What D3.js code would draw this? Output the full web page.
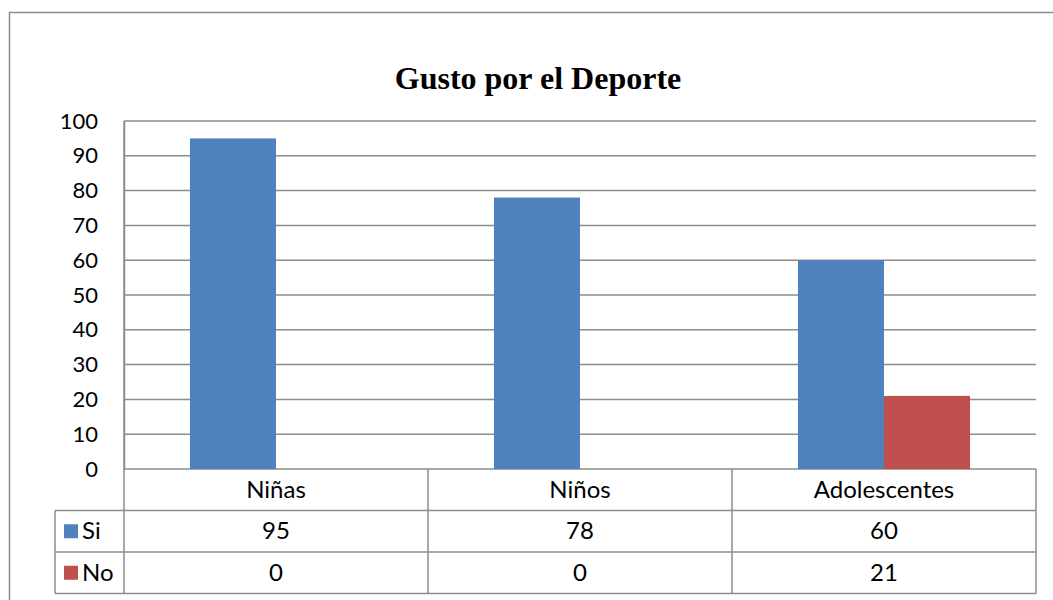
<!DOCTYPE html>
<html>
<head>
<meta charset="utf-8">
<script src="https://cdn.jsdelivr.net/npm/d3@7"></script>
<style>
  body { margin: 0; background: #fff; }
  svg { display: block; }
</style>
</head>
<body>
<div id="chart"></div>
<script>
var categories = ["Niñas", "Niños", "Adolescentes"];
var seriesNames = ["Si", "No"];
var siValues = [95, 78, 60];
var noValues = [0, 0, 21];
var yTicks = [0, 10, 20, 30, 40, 50, 60, 70, 80, 90, 100];
var colors = ["#4f81bd", "#c0504d"];

var width = 1053, height = 600;
var plot = { left: 124, right: 1036, top: 121, bottom: 469 };
var rowH = 41.5;
var tableLeft = 55;
var gridColor = "#8c8c8c";

var svg = d3.select("#chart").append("svg")
    .attr("width", width)
    .attr("height", height);

// outer frame (cut off at right and bottom)
svg.append("rect")
    .attr("x", 9.5).attr("y", 12.5)
    .attr("width", 1100).attr("height", 700)
    .attr("fill", "none")
    .attr("stroke", gridColor)
    .attr("stroke-width", 1.5);

svg.append("text")
    .attr("x", 538).attr("y", 89)
    .attr("text-anchor", "middle")
    .style("font-family", "'Liberation Serif', 'Times New Roman', serif")
    .style("font-weight", "bold")
    .style("font-size", "32px")
    .attr("fill", "#000")
    .text("Gusto por el Deporte");

var y = d3.scaleLinear().domain([0, 100]).range([plot.bottom, plot.top]);
var x0 = d3.scaleBand().domain(categories).range([plot.left, plot.right]).padding(0);
var x1 = d3.scaleBand().domain(seriesNames).range([0, x0.bandwidth()])
    .paddingInner(0).paddingOuter(0.767);

// gridlines
svg.append("g").selectAll("line")
    .data(yTicks).enter()
    .append("line")
    .attr("x1", plot.left).attr("x2", plot.right)
    .attr("y1", function(d) { return y(d); })
    .attr("y2", function(d) { return y(d); })
    .attr("stroke", gridColor)
    .attr("stroke-width", 1.5);

// y axis labels
var yAxis = d3.axisLeft(y).tickValues(yTicks).tickSize(0).tickPadding(26);
var yg = svg.append("g")
    .attr("transform", "translate(" + plot.left + ",0)")
    .call(yAxis);
yg.select(".domain").attr("stroke", gridColor).attr("stroke-width", 1.5);
yg.selectAll("text")
    .style("font-family", "Lato, 'Open Sans', sans-serif")
    .style("font-size", "22px")
    .attr("fill", "#000");

// bars
var rows = categories.map(function(c, i) {
    return { cat: c, values: [siValues[i], noValues[i]] };
});
var groups = svg.append("g").selectAll("g")
    .data(rows).enter()
    .append("g")
    .attr("transform", function(d) { return "translate(" + x0(d.cat) + ",0)"; });
groups.selectAll("rect")
    .data(function(d) {
        return d.values.map(function(v, j) { return { s: seriesNames[j], v: v, j: j }; });
    })
    .enter().append("rect")
    .attr("x", function(d) { return x1(d.s); })
    .attr("width", x1.bandwidth())
    .attr("y", function(d) { return y(d.v); })
    .attr("height", function(d) { return plot.bottom - y(d.v); })
    .attr("fill", function(d) { return colors[d.j]; });

// data table
var table = svg.append("g");
var tBottom = plot.bottom + rowH * 3;
function hline(x1p, x2p, yp) {
    table.append("line").attr("x1", x1p).attr("x2", x2p).attr("y1", yp).attr("y2", yp)
        .attr("stroke", gridColor).attr("stroke-width", 1.5);
}
function vline(xp, y1p, y2p) {
    table.append("line").attr("x1", xp).attr("x2", xp).attr("y1", y1p).attr("y2", y2p)
        .attr("stroke", gridColor).attr("stroke-width", 1.5);
}
hline(tableLeft, plot.right, plot.bottom + rowH);
hline(tableLeft, plot.right, plot.bottom + rowH * 2);
hline(tableLeft, plot.right, tBottom);
vline(tableLeft, plot.bottom + rowH, tBottom);
vline(plot.left, plot.top, tBottom);
categories.forEach(function(c) {
    vline(x0(c) + x0.bandwidth(), plot.bottom, tBottom);
});

var cellFont = "Lato, 'Open Sans', sans-serif";
var cellSize = "24px";
table.selectAll("text.cat")
    .data(categories).enter()
    .append("text")
    .attr("class", "cat")
    .attr("x", function(d) { return x0(d) + x0.bandwidth() / 2; })
    .attr("y", plot.bottom + rowH / 2 + 8)
    .attr("text-anchor", "middle")
    .style("font-family", cellFont)
    .style("font-size", cellSize)
    .text(function(d) { return d; });

[siValues, noValues].forEach(function(vals, r) {
    var rowY = plot.bottom + rowH * (r + 1);
    table.append("rect")
        .attr("x", 64).attr("y", rowY + rowH / 2 - 7)
        .attr("width", 14).attr("height", 14)
        .attr("fill", colors[r]);
    table.append("text")
        .attr("x", 82).attr("y", rowY + rowH / 2 + 8)
        .style("font-family", cellFont)
        .style("font-size", cellSize)
        .text(seriesNames[r]);
    table.selectAll("text.v" + r)
        .data(vals).enter()
        .append("text")
        .attr("x", function(d, i) { return x0(categories[i]) + x0.bandwidth() / 2; })
        .attr("y", rowY + rowH / 2 + 8)
        .attr("text-anchor", "middle")
        .style("font-family", cellFont)
        .style("font-size", cellSize)
        .text(function(d) { return d; });
});
</script>
</body>
</html>
